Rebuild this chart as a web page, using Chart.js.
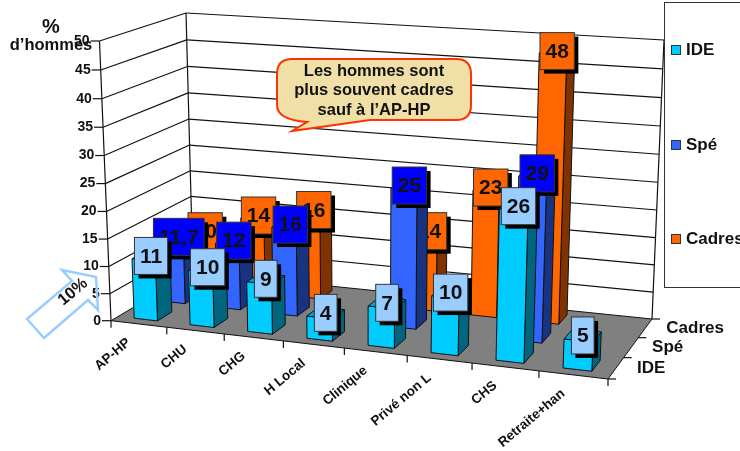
<!DOCTYPE html>
<html>
<head>
<meta charset="utf-8">
<style>
  html, body { margin: 0; padding: 0; background: #fff; }
  canvas { display: block; }
</style>
<script src="https://cdn.jsdelivr.net/npm/chart.js@4/dist/chart.umd.min.js"></script>
</head>
<body>
<canvas id="chart" width="740" height="451"></canvas>
<script>
const categories = ['AP-HP', 'CHU', 'CHG', 'H Local', 'Clinique', 'Privé non L', 'CHS', 'Retraite+han'];
const seriesNames = ['IDE', 'Spé', 'Cadres'];
const ideValues = [11, 10, 9, 4, 7, 10, 26, 5];
const speValues = [11.7, 12, 16, null, 25, null, 29, null];
const cadresValues = [10, 14, 16, null, 14, 23, 48, null];
const valueTicks = [0, 5, 10, 15, 20, 25, 30, 35, 40, 45, 50];

const FONT = '"Liberation Sans", Arial, sans-serif';
const INK = '#111';

// one look per series: front, side, top of the column, then label box
const looks = [
  { front: '#00ccff', side: '#006680', top: '#00a3cc', box: '#99ccff' },
  { front: '#3366ff', side: '#1a3380', top: '#2952cc', box: '#0000ff' },
  { front: '#ff6600', side: '#803300', top: '#cc5200', box: '#ff6600' }
];

// corners of the 3D box on screen: front-left, front-right, back-right, back-left
const floorQuad = [[111, 320.7], [608, 379], [652, 319], [193, 272]];
const roofQuad = [[99.5, 41], [621, 75], [664, 40], [186, 13]];
const ROW_DEPTH = 0.17;

// unit square to quad, keeps the perspective of the floor
function quadMap(q) {
  const [[x0, y0], [x1, y1], [x2, y2], [x3, y3]] = q;
  const dx1 = x1 - x2, dx2 = x3 - x2, sx = x0 - x1 + x2 - x3;
  const dy1 = y1 - y2, dy2 = y3 - y2, sy = y0 - y1 + y2 - y3;
  const den = dx1 * dy2 - dx2 * dy1;
  const g = (sx * dy2 - dx2 * sy) / den;
  const h = (dx1 * sy - sx * dy1) / den;
  const a = x1 - x0 + g * x1, b = x3 - x0 + h * x3;
  const d = y1 - y0 + g * y1, e = y3 - y0 + h * y3;
  return (u, v) => {
    const w = g * u + h * v + 1;
    return [(a * u + b * v + x0) / w, (d * u + e * v + y0) / w];
  };
}
const floorAt = quadMap(floorQuad);
const roofAt = quadMap(roofQuad);

// u along the categories, d into the depth, z up the values (all 0..1)
function project(u, d, z) {
  const t = z / (z + (1 - z) * 1.04);
  const a = floorAt(u, d), b = roofAt(u, d);
  return [a[0] + (b[0] - a[0]) * t, a[1] + (b[1] - a[1]) * t];
}

function poly(ctx, pts, fill, stroke, lw) {
  ctx.beginPath();
  pts.forEach((p, i) => i ? ctx.lineTo(p[0], p[1]) : ctx.moveTo(p[0], p[1]));
  ctx.closePath();
  if (fill) { ctx.fillStyle = fill; ctx.fill(); }
  if (stroke) { ctx.strokeStyle = stroke; ctx.lineWidth = lw || 1; ctx.stroke(); }
}

function line(ctx, a, b, color, lw) {
  ctx.beginPath();
  ctx.moveTo(a[0], a[1]);
  ctx.lineTo(b[0], b[1]);
  ctx.strokeStyle = color || INK;
  ctx.lineWidth = lw || 1.2;
  ctx.stroke();
}

function text(ctx, str, x, y, font, align) {
  ctx.font = font;
  ctx.textAlign = align || 'center';
  ctx.textBaseline = 'middle';
  ctx.fillStyle = INK;
  ctx.fillText(str, x, y);
}

const box3d = {
  id: 'box3d',

  // walls, floor, axes
  beforeDatasetsDraw(chart) {
    const ctx = chart.ctx;
    const y = chart.scales.y;
    const zOf = v => (y.bottom - y.getPixelForValue(v)) / (y.bottom - y.top);

    poly(ctx, [project(0, 0, 0), project(1, 0, 0), project(1, 1, 0), project(0, 1, 0)], '#808080', INK, 1);

    valueTicks.forEach(v => {
      const z = zOf(v);
      const front = project(0, 0, z), back = project(0, 1, z), right = project(1, 1, z);
      if (v > 0) line(ctx, front, back);
      if (v > 0) line(ctx, back, right);
      line(ctx, [front[0] - 9, front[1]], front);
      text(ctx, String(v), front[0] - 10, front[1], 'bold 14px ' + FONT, 'right');
    });
    line(ctx, project(0, 0, 0), project(0, 0, 1));
    line(ctx, project(0, 1, 0), project(0, 1, 1));
    line(ctx, project(1, 1, 0), project(1, 1, 1));

    // category axis along the front edge
    categories.forEach((name, i) => {
      const start = project(i / categories.length, 0, 0);
      line(ctx, start, [start[0], start[1] + 7]);
      const mid = project((i + 0.5) / categories.length, 0, 0);
      ctx.save();
      ctx.translate(mid[0] - 10, mid[1] + 17);
      ctx.rotate(-40 * Math.PI / 180);
      text(ctx, name, 0, 0, 'bold 13.5px ' + FONT, 'right');
      ctx.restore();
    });
    const end = project(1, 0, 0);
    line(ctx, end, [end[0], end[1] + 7]);

    // series axis along the right edge
    const depth = chart.scales.xDepth;
    const dOf = i => (depth.getPixelForValue(i) - depth.left) / depth.width;
    for (let i = 0; i <= seriesNames.length; i++) {
      const p = project(1, i / seriesNames.length, 0);
      line(ctx, p, [p[0] + 8, p[1]]);
    }
    seriesNames.forEach((name, i) => {
      const p = project(1, dOf(i), 0);
      text(ctx, name, p[0] + 21, p[1], 'bold 17px ' + FONT, 'left');
    });
  },

  // each series is painted as 3D columns, back row first
  beforeDatasetDraw(chart, args) {
    const ctx = chart.ctx;
    const { x, y, xDepth } = chart.scales;
    const look = looks[args.index];
    const values = chart.data.datasets[args.index].data;
    const dMid = (xDepth.getPixelForValue(args.index) - xDepth.left) / xDepth.width;
    const d0 = dMid - ROW_DEPTH / 2, d1 = dMid + ROW_DEPTH / 2;
    const tops = [];

    args.meta.data.forEach((bar, i) => {
      if (values[i] === null) return;
      const u0 = (bar.x - bar.width / 2 - x.left) / x.width;
      const u1 = (bar.x + bar.width / 2 - x.left) / x.width;
      const z = (y.bottom - bar.y) / (y.bottom - y.top);
      poly(ctx, [project(u1, d0, 0), project(u1, d1, 0), project(u1, d1, z), project(u1, d0, z)], look.side, INK, 1);
      poly(ctx, [project(u0, d0, z), project(u1, d0, z), project(u1, d1, z), project(u0, d1, z)], look.top, INK, 1);
      poly(ctx, [project(u0, d0, 0), project(u1, d0, 0), project(u1, d0, z), project(u0, d0, z)], look.front, INK, 1);
      tops.push({ at: project((u0 + u1) / 2, dMid, z), value: values[i] });
    });

    // value boxes sit on the column tops, over the whole row
    tops.forEach(t => {
      const str = String(t.value).replace('.', ',');
      ctx.font = 'bold 21px ' + FONT;
      const w = ctx.measureText(str).width + 11, h = 37;
      const left = t.at[0] - w / 2, top = t.at[1] - h / 2;
      ctx.fillStyle = '#000';
      ctx.fillRect(left + 4, top + 4, w, h);
      ctx.fillStyle = look.box;
      ctx.fillRect(left, top, w, h);
      ctx.strokeStyle = '#333';
      ctx.lineWidth = 1;
      ctx.strokeRect(left, top, w, h);
      text(ctx, str, t.at[0], t.at[1] + 1, 'bold 21px ' + FONT);
    });
    return false;
  },

  // legend, axis title, callout and arrow
  afterDatasetsDraw(chart) {
    const ctx = chart.ctx;

    ctx.strokeStyle = '#333';
    ctx.lineWidth = 1;
    ctx.fillStyle = '#fff';
    ctx.fillRect(664.5, 2.5, 90, 285);
    ctx.strokeRect(664.5, 2.5, 90, 285);
    [50, 145, 239].forEach((ly, i) => {
      ctx.fillStyle = looks[i].front;
      ctx.fillRect(671.5, ly - 4.5, 9, 9);
      ctx.strokeRect(671.5, ly - 4.5, 9, 9);
      text(ctx, seriesNames[i], 686, ly + 0.5, 'bold 17px ' + FONT, 'left');
    });

    text(ctx, '%', 51, 27, 'bold 20px ' + FONT);
    text(ctx, 'd’hommes', 51, 45, 'bold 16.5px ' + FONT);

    // callout
    ctx.beginPath();
    ctx.moveTo(292, 59);
    ctx.lineTo(456, 59);
    ctx.quadraticCurveTo(471, 59, 471, 74);
    ctx.lineTo(471, 105);
    ctx.quadraticCurveTo(471, 120, 456, 120);
    ctx.lineTo(370, 120);
    ctx.lineTo(292, 131);
    ctx.lineTo(307, 122);
    ctx.quadraticCurveTo(277, 120, 277, 105);
    ctx.lineTo(277, 74);
    ctx.quadraticCurveTo(277, 59, 292, 59);
    ctx.closePath();
    ctx.fillStyle = '#f0e0a8';
    ctx.fill();
    ctx.strokeStyle = '#ff3300';
    ctx.lineWidth = 2;
    ctx.stroke();
    ['Les hommes sont', 'plus souvent cadres', 'sauf à l’AP-HP'].forEach((s, i) => {
      text(ctx, s, 374, 71 + i * 19.5, 'bold 16.5px ' + FONT);
    });

    // 10% arrow
    poly(ctx, [[27, 319], [72, 281], [62, 270], [96, 277], [98, 310], [88, 300], [44, 338]], null, '#99ccff', 2.5);
    ctx.save();
    ctx.translate(73, 292);
    ctx.rotate(-40 * Math.PI / 180);
    text(ctx, '10%', 0, 0, 'bold 16.5px ' + FONT);
    ctx.restore();
  }
};

new Chart(document.getElementById('chart'), {
  type: 'bar',
  data: {
    labels: categories,
    datasets: [
      { label: seriesNames[0], data: ideValues },
      { label: seriesNames[1], data: speValues },
      { label: seriesNames[2], data: cadresValues }
    ]
  },
  options: {
    responsive: false,
    animation: false,
    datasets: { bar: { grouped: false, categoryPercentage: 1, barPercentage: 0.42 } },
    plugins: { legend: { display: false }, tooltip: { enabled: false } },
    scales: {
      x: { display: false },
      y: { display: false, min: 0, max: 50, ticks: { stepSize: 5 } },
      xDepth: { type: 'category', axis: 'x', labels: seriesNames, offset: true, display: false }
    }
  },
  plugins: [box3d]
});
</script>
</body>
</html>
